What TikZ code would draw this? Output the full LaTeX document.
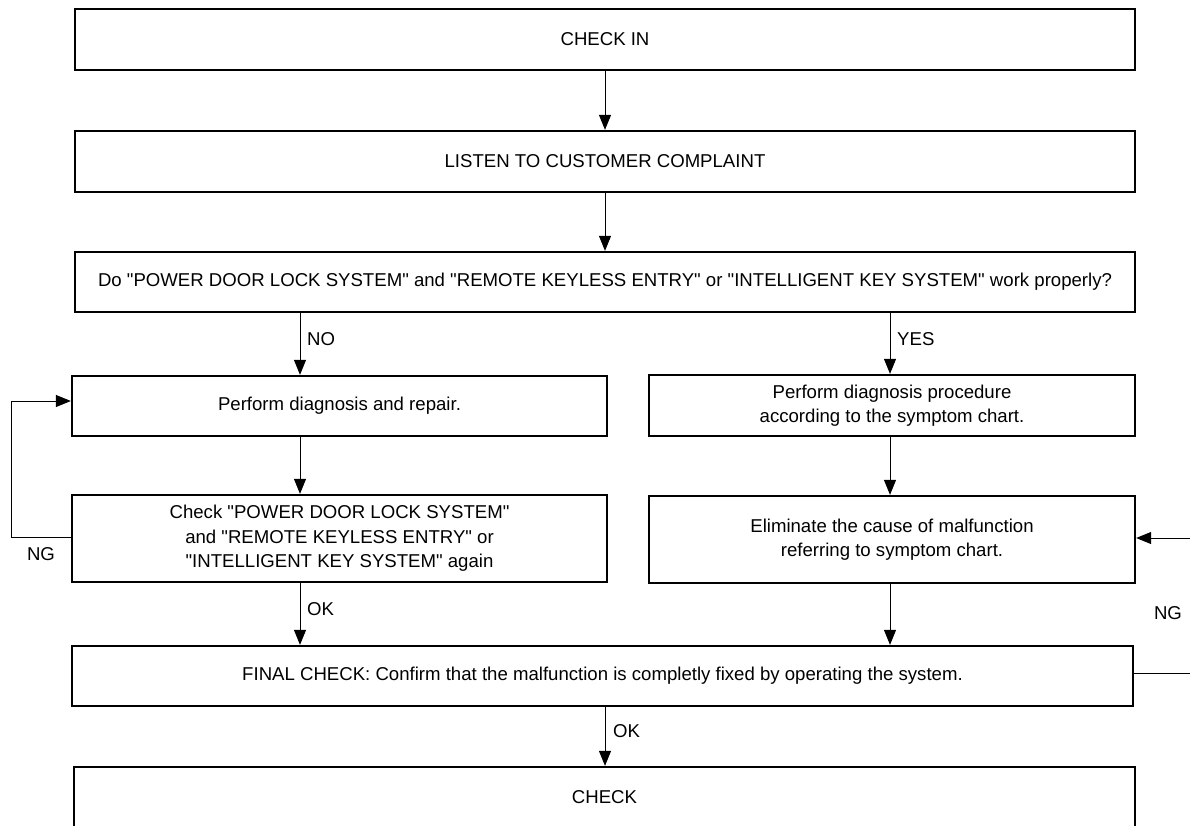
\documentclass[tikz,border=0pt]{standalone}
\usepackage{fontspec}
\setmainfont{Liberation Sans}[Ligatures=TeXOff]
\usetikzlibrary{arrows.meta}
\newcommand\fs{\fontsize{18.6}{24.5}\selectfont}
\begin{document}
\begin{tikzpicture}[x=1pt,y=-1pt,
  box/.style={draw=black, line width=2.3pt, inner sep=0pt, align=center, font=\fs},
  arr/.style={line width=1pt, -{Triangle[length=15pt,width=12pt]}},
  ln/.style={line width=1pt},
  lbl/.style={font=\fs, inner sep=0pt}]
\useasboundingbox (0,0) rectangle (1190,825);
\clip (0,0) rectangle (1190,825);
\fill[white] (0,0) rectangle (1190,825);

% boxes
\node[box, minimum width=1060pt, minimum height=61pt] (checkin) at (605,39.5) {CHECK IN};
\node[box, minimum width=1060pt, minimum height=61pt] (listen) at (605,161.5) {LISTEN TO CUSTOMER COMPLAINT};
\node[box, minimum width=1060pt, minimum height=60pt] (do) at (605,282) {Do "POWER DOOR LOCK SYSTEM" and "REMOTE KEYLESS ENTRY" or "INTELLIGENT KEY SYSTEM" work properly?};
\node[box, minimum width=535pt, minimum height=60pt] (repair) at (339.5,406) {Perform diagnosis and repair.};
\node[box, minimum width=486pt, minimum height=61pt] (proc) at (892,405.5) {Perform diagnosis procedure\\according to the symptom chart.};
\node[box, minimum width=535pt, minimum height=87pt] (check) at (339.5,538.5) {Check "POWER DOOR LOCK SYSTEM"\\and "REMOTE KEYLESS ENTRY" or\\"INTELLIGENT KEY SYSTEM" again};
\node[box, minimum width=486pt, minimum height=87pt] (elim) at (892,539.5) {Eliminate the cause of malfunction\\referring to symptom chart.};
\node[box, minimum width=1061pt, minimum height=60pt] (final) at (602.5,676) {FINAL CHECK: Confirm that the malfunction is completly fixed by operating the system.};
\node[box, minimum width=1061pt, minimum height=60pt] (checkout) at (604.5,797) {CHECK};

% helper coordinates
\coordinate (cL) at (300,0);
\coordinate (cR) at (890,0);
\coordinate (cM) at (605,0);
\coordinate (loopx) at (11,0);
\coordinate (redge) at (1190,0);

% connectors
\draw[arr] (checkin.south -| cM) -- (listen.north -| cM);
\draw[arr] (listen.south -| cM) -- (do.north -| cM);
\draw[arr] (do.south -| cL) -- (repair.north -| cL);
\draw[arr] (do.south -| cR) -- (proc.north -| cR);
\draw[arr] (repair.south -| cL) -- (check.north -| cL);
\draw[arr] (proc.south -| cR) -- (elim.north -| cR);
\draw[arr] (check.south -| cL) -- (final.north -| cL);
\draw[arr] (elim.south -| cR) -- (final.north -| cR);
\draw[arr] (final.south -| cM) -- (checkout.north -| cM);
\draw[arr] ([yshift=1.5pt]check.west) -- ([yshift=1.5pt]check.west -| loopx) |- ([yshift=5pt]repair.west);
\draw[ln] ([yshift=3pt]final.east) -- ([yshift=3pt]final.east -| redge);
\draw[arr] ([yshift=1.5pt]elim.east -| redge) -- ([yshift=1.5pt]elim.east);

% labels
\node[lbl, anchor=west] (lno) at (307,339) {NO};
\node[lbl, anchor=west] (lyes) at (897,339) {YES};
\node[lbl, anchor=west] (lok1) at (307,609) {OK};
\node[lbl, anchor=west] (lok2) at (613,731) {OK};
\node[lbl] (lng1) at (41,554) {NG};
\node[lbl] (lng2) at (1168,613) {NG};
\end{tikzpicture}
\end{document}
